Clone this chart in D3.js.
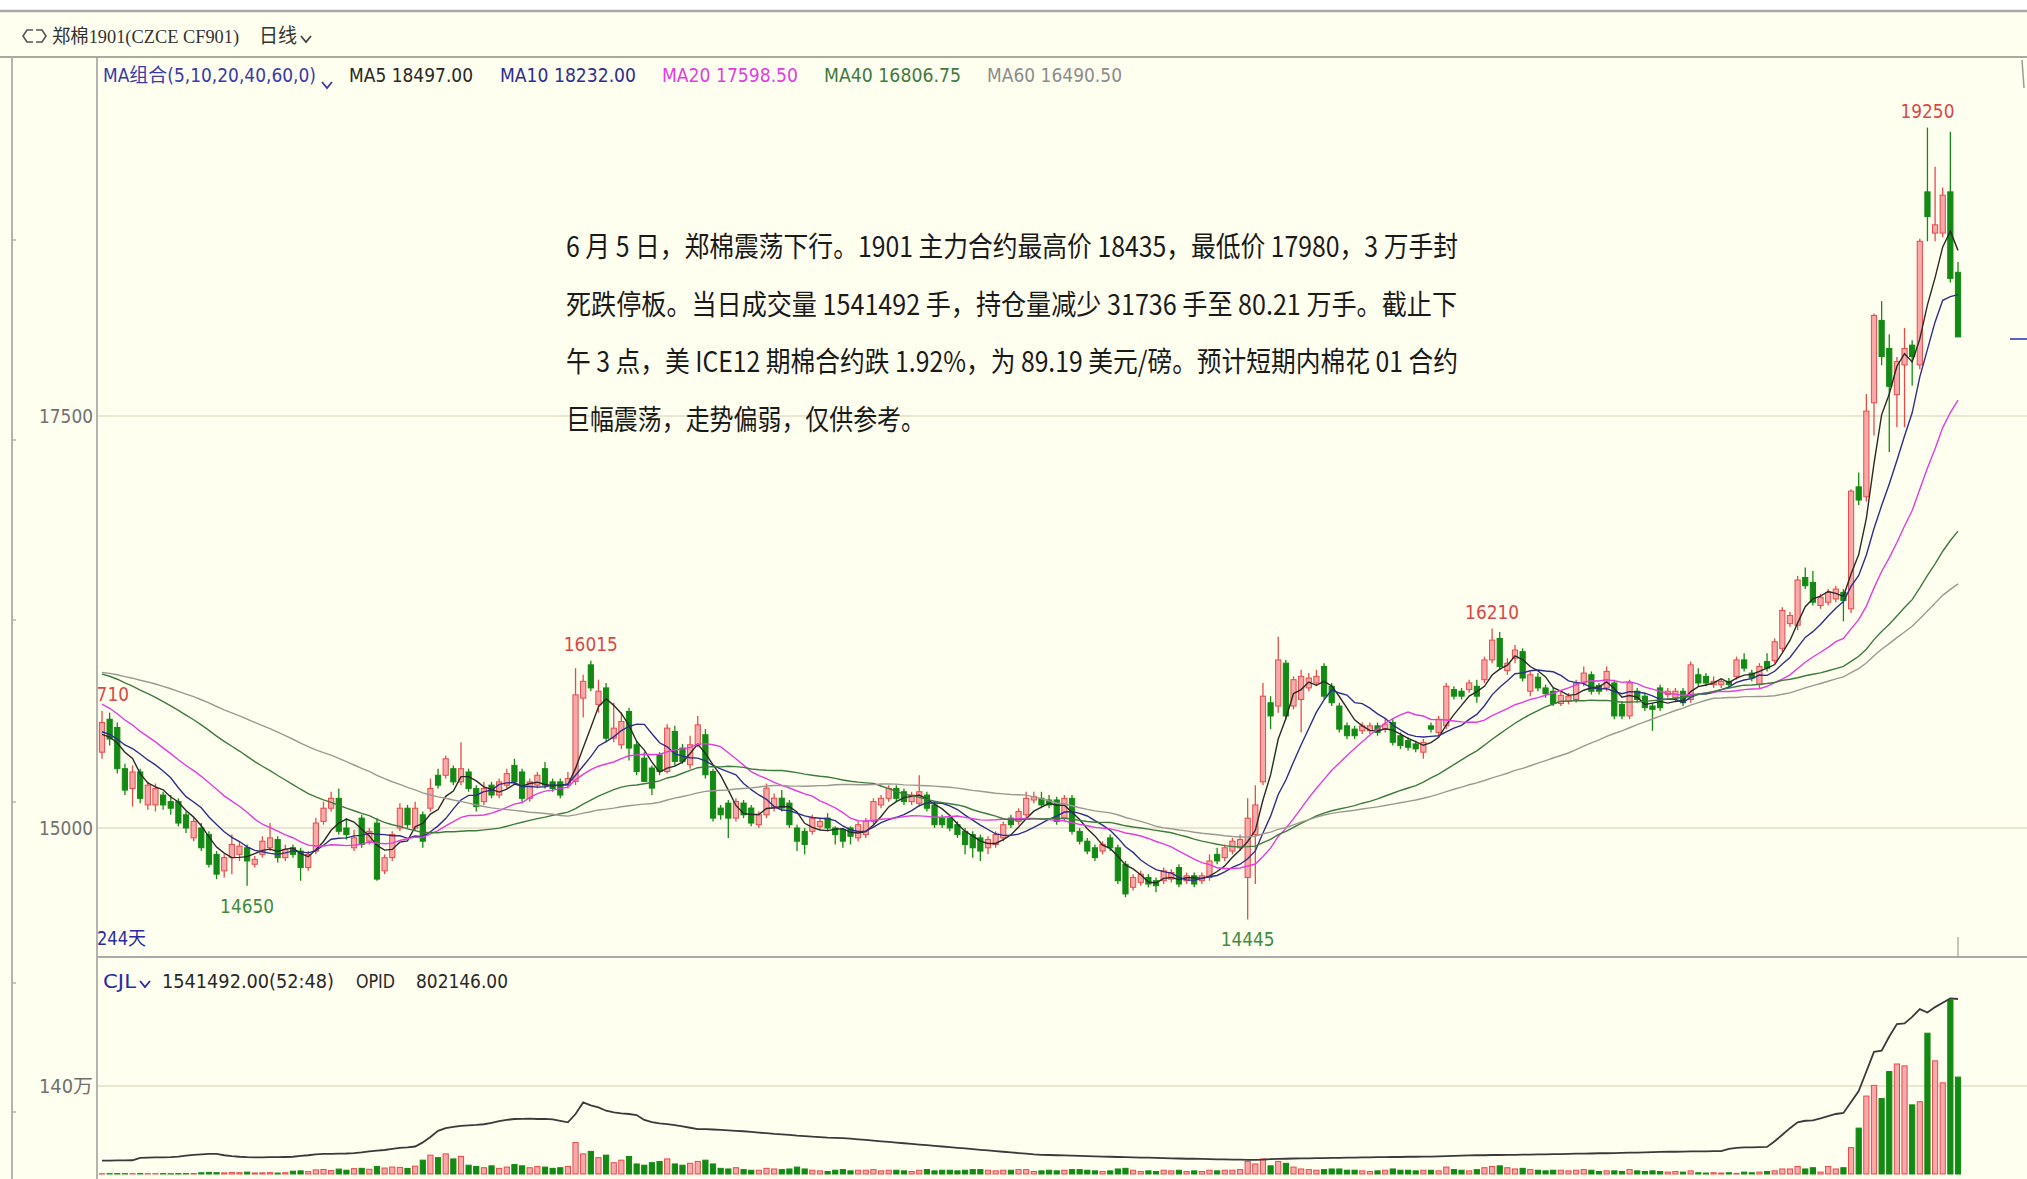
<!DOCTYPE html>
<html lang="zh-CN">
<head>
<meta charset="utf-8">
<title>郑棉1901 日线</title>
<script src="https://cdn.jsdelivr.net/npm/d3@7"></script>
<style>
  html, body { margin: 0; padding: 0; background: #fffff0; }
  svg { display: block; }
  text { font-family: "DejaVu Sans Condensed", "Liberation Sans Narrow", "Noto Sans CJK SC", sans-serif; }
</style>
</head>
<body>
<script>

// daily bars of CF901, oldest first (244 days)
var opens = [
  15460,15660,15610,15360,15240,15340,15140,15140,15200,15160,
  15160,15080,14940,15000,14960,14840,14740,14820,14840,14880,
  14780,14840,14880,14930,14820,14880,14860,14760,14860,15040,
  15120,15180,15000,14880,15060,14920,15030,14740,14820,15000,
  15120,15000,15080,15120,15320,15320,15360,15280,15340,15240,
  15160,15260,15200,15260,15380,15340,15180,15260,15360,15280,
  15280,15260,15283,15788,15990,15750,15850,15545,15505,15707,
  15505,15424,15364,15444,15343,15586,15485,15384,15505,15566,
  15343,15121,15151,15060,15151,15121,15020,15080,15121,15181,
  15151,15000,14980,14980,15010,15060,15000,14990,15000,14940,
  14960,15040,15140,15180,15240,15220,15160,15150,15200,15140,
  15060,15060,15020,14980,14960,14940,14880,14900,14940,15060,
  15040,15080,15170,15180,15170,15170,15060,15180,14980,14920,
  14880,14860,14940,14880,14780,14640,14670,14700,14680,14680,
  14690,14760,14680,14710,14680,14700,14840,14820,14860,14880,
  14700,14960,15280,15760,15740,16000,15740,15780,15850,15880,
  15980,15860,15740,15620,15600,15590,15590,15620,15600,15640,
  15560,15530,15510,15460,15620,15580,15620,15840,15830,15840,
  15860,15900,16020,16150,15955,16030,16070,15830,15915,15850,
  15830,15755,15770,15780,15880,15930,15865,15850,15880,15750,
  15680,15830,15800,15740,15850,15810,15790,15830,15780,15930,
  15920,15870,15870,15890,15920,16020,15940,15870,16010,16016,
  16090,16240,16230,16520,16490,16350,16370,16390,16430,16330,
  17070,17010,17580,18080,17910,17630,17810,17930,17810,18860,
  18610,18610,18860,18372
];
var highs = [
  15710,15700,15640,15390,15380,15360,15280,15270,15220,15200,
  15180,15100,15060,15030,14980,14860,14840,14960,14920,14900,
  14830,14950,15030,14950,14900,14900,14880,14860,15060,15160,
  15220,15240,15060,14990,15080,15000,15060,14840,14980,15150,
  15140,15160,15100,15300,15360,15440,15380,15520,15360,15260,
  15280,15280,15300,15360,15420,15360,15300,15340,15400,15300,
  15300,15340,15970,15930,16015,15900,15880,15760,15700,15730,
  15530,15460,15380,15460,15630,15620,15510,15560,15680,15600,
  15360,15140,15170,15180,15170,15140,15100,15270,15210,15230,
  15170,15020,15000,15080,15060,15090,15010,15000,15010,15040,
  15060,15180,15200,15260,15260,15240,15220,15320,15220,15160,
  15080,15080,15040,15000,14980,14960,14950,14980,15040,15080,
  15120,15220,15220,15220,15200,15190,15200,15200,15000,14940,
  14900,14920,14960,14900,14800,14720,14740,14720,14700,14760,
  14750,14780,14730,14730,14730,14840,14880,14900,14940,14960,
  15180,15260,15880,15800,16160,16020,15920,15960,15940,15960,
  16000,15880,15760,15640,15620,15640,15640,15640,15660,15660,
  15580,15550,15530,15540,15640,15680,15880,15860,15850,15900,
  15900,16040,16210,16190,16030,16110,16090,15950,15940,15870,
  15850,15830,15820,15900,15980,15950,15880,15980,15900,15770,
  15900,15850,15820,15760,15870,15850,15850,15850,16010,15970,
  15940,15920,15910,15910,16040,16060,15960,16000,16060,16150,
  16340,16310,16530,16580,16560,16420,16450,16470,16450,17056,
  17157,17633,18122,18197,17996,17858,18034,17960,18575,19250,
  19012,18886,19225,18435
];
var lows = [
  15420,15500,15330,15200,15130,15150,15110,15100,15110,15080,
  15010,14970,14920,14860,14760,14690,14700,14720,14800,14650,
  14760,14820,14860,14790,14800,14820,14680,14740,14840,15020,
  15100,14960,14930,14860,14880,14900,14680,14720,14800,14980,
  15000,14980,14880,15100,15240,15300,15260,15260,15220,15100,
  15140,15180,15180,15240,15260,15160,15160,15240,15240,15220,
  15180,15240,15260,15670,15830,15700,15520,15520,15480,15410,
  15320,15280,15200,15320,15330,15380,15390,15360,15490,15300,
  15040,15050,14940,15040,15060,15010,15000,15060,15100,15100,
  15000,14860,14840,14960,14990,14980,14900,14880,14900,14920,
  14940,15020,15120,15160,15160,15140,15140,15130,15100,15000,
  15000,14980,14940,14840,14820,14800,14840,14880,14920,15000,
  15020,15060,15150,15120,15120,15020,15040,14960,14900,14840,
  14800,14840,14860,14660,14580,14620,14650,14640,14610,14660,
  14670,14640,14660,14640,14660,14680,14780,14800,14840,14860,
  14445,14660,15260,15600,15700,15660,15720,15580,15830,15860,
  15780,15740,15580,15540,15540,15570,15570,15560,15580,15500,
  15480,15470,15460,15420,15580,15560,15600,15780,15780,15820,
  15760,15880,16000,15960,15930,16000,15890,15800,15830,15790,
  15740,15740,15750,15760,15860,15810,15810,15830,15660,15660,
  15660,15760,15710,15590,15710,15790,15770,15740,15760,15860,
  15860,15850,15850,15850,15900,15950,15890,15850,15950,16000,
  16070,16220,16200,16450,16350,16330,16350,16370,16254,16304,
  16960,16981,17382,17808,17282,17432,17432,17683,17783,18560,
  18560,18585,18310,17980
];
var closes = [
  15640,15540,15360,15230,15340,15180,15260,15240,15140,15120,
  15030,15000,15040,14880,14780,14720,14820,14900,14890,14800,
  14810,14920,14940,14820,14870,14840,14760,14840,15030,15120,
  15180,14980,14960,14940,14900,14980,14690,14820,14960,15120,
  15020,15120,14920,15240,15260,15420,15280,15360,15240,15130,
  15240,15200,15280,15330,15280,15180,15280,15320,15260,15240,
  15200,15300,15808,15890,15850,15830,15545,15606,15646,15485,
  15343,15283,15242,15343,15606,15404,15404,15505,15626,15323,
  15060,15080,15060,15161,15080,15030,15080,15242,15181,15121,
  15020,14920,14900,15060,15040,15000,14960,14920,14950,15020,
  15040,15160,15180,15240,15180,15160,15200,15220,15120,15020,
  15020,15000,14960,14900,14880,14860,14930,14960,15020,15020,
  15100,15180,15190,15140,15140,15040,15180,14980,14920,14860,
  14820,14900,14880,14680,14600,14700,14720,14660,14650,14740,
  14730,14660,14710,14660,14710,14800,14800,14880,14920,14930,
  15060,15140,15800,15680,16020,15680,15900,15920,15910,15920,
  15800,15760,15600,15560,15560,15620,15620,15580,15630,15520,
  15500,15490,15480,15520,15600,15660,15860,15800,15800,15880,
  15800,16020,16140,15980,16000,16080,15910,15930,15850,15815,
  15755,15805,15800,15880,15940,15830,15830,15950,15680,15680,
  15880,15780,15730,15720,15730,15830,15830,15760,15990,15880,
  15880,15890,15890,15870,16020,15970,15910,15980,15970,16130,
  16320,16290,16505,16470,16370,16400,16430,16450,16380,17044,
  16990,17530,18110,17860,17680,17830,17910,17860,18560,18710,
  18660,18840,18335,17980
];
// closes before the visible window, only used to seed the moving averages
var priorCloses = [
  15850,15880,15900,15920,15940,15900,15960,15980,16000,15970,
  15990,16010,15980,15960,16000,16020,15990,16010,16030,15990,
  16050,16080,16100,16120,16150,16130,16160,16180,16140,16120,
  16150,16170,16130,16100,16120,16090,16080,16060,16100,16070,
  16050,16020,15990,15960,15940,15900,15880,15860,15820,15780,
  15700,15650,15580,15560,15510,15620,15540,15510,15530
];
// volume (CJL) in 万手
var volumes = [
  0.4,0.5,0.6,0.5,0.4,0.6,0.5,0.5,0.6,0.4,
  0.7,0.6,0.8,2.0,2.6,2.2,1.8,2.5,2.0,3.0,
  1.6,1.8,2.2,1.5,2.0,4.5,5.0,3.8,6.5,7.2,
  5.5,7.8,6.0,8.5,9.0,7.5,12,9.5,11,10.5,
  8.8,12.5,22,30,26,32,24,28,14,12,
  10,13,9,11,15,13,10,12,11,9,
  10,12,50,32,36,26,30,18,22,28,
  16,14,18,20,24,16,14,17,20,22,
  16,9,8,10,7,6,6,9,8,7,
  8,11,8,6,5,4,6,7,5,6,
  6,7,5,6,6,5,4,6,7,5,
  6,6,5,6,7,7,6,5,6,6,
  7,7,4,5,6,5,6,7,7,6,
  5,4,5,8,9,6,4,5,4,6,
  5,6,4,5,4,6,5,6,6,7,
  20,16,24,13,20,17,11,8,7,6,
  7,8,8,6,6,5,4,5,6,8,
  6,6,5,6,6,5,11,7,6,5,
  7,10,12,13,10,8,9,7,6,5,
  6,6,5,6,7,6,4,5,5,4,
  7,5,4,5,4,3,4,3,5,2,
  1.5,2,1.5,2,1,3,2,3,4,5,
  8,8,12,8,10,3,12,8,10,42,
  73,124,141,120,163,175,172,110,115,224,
  180,145,277,154.1492
];
// open interest (OPID) in 万手
var openInterest = [
  6.1,6.1,6.2,6.2,6.3,7.4,7.5,7.6,7.6,7.7,
  8.0,8.4,8.8,9.0,9.2,9.2,8.6,8.2,7.9,7.7,
  7.6,7.6,7.7,7.7,7.8,7.9,8.3,8.6,9.0,9.2,
  9.2,9.3,9.4,9.6,9.9,10.4,10.7,11.0,11.5,12.0,
  12.2,12.6,14.5,17.0,19.8,21.0,21.6,22.1,22.3,22.5,
  22.8,23.4,24.2,24.8,25.2,25.3,25.4,25.2,25.3,25.0,
  24.4,23.7,27.5,32.8,31.5,30.5,29.0,28.2,27.8,27.5,
  27.0,24.8,23.8,23.2,22.9,22.4,21.8,21.2,20.6,20.6,
  20.4,20.2,20.0,19.8,19.6,19.3,19.0,18.7,18.4,18.2,
  17.9,17.6,17.4,17.1,16.9,16.7,16.6,16.4,16.2,15.9,
  15.6,15.3,15.0,14.7,14.4,14.1,13.8,13.5,13.2,12.9,
  12.6,12.3,12.0,11.7,11.4,11.1,10.8,10.5,10.2,9.9,
  9.6,9.3,9.0,8.8,8.7,8.6,8.5,8.4,8.3,8.2,
  8.1,8.0,7.9,7.8,7.7,7.6,7.5,7.5,7.4,7.3,
  7.2,7.1,7.0,7.0,6.9,6.8,6.7,6.7,6.6,6.6,
  6.5,6.5,6.6,6.8,6.9,7.0,7.1,7.2,7.2,7.3,
  7.3,7.4,7.4,7.5,7.5,7.6,7.6,7.7,7.7,7.8,
  7.8,7.9,7.9,8.0,8.0,8.1,8.2,8.3,8.4,8.5,
  8.6,8.6,8.7,8.7,8.8,8.8,8.9,8.9,9.0,9.0,
  9.1,9.1,9.2,9.3,9.3,9.4,9.5,9.5,9.6,9.7,
  9.8,9.8,9.9,10.0,10.1,10.2,10.2,10.3,10.4,10.4,
  10.4,10.5,10.5,11.5,12.0,12.2,12.2,12.3,12.4,15.0,
  18.0,21.0,23.7,24.4,24.6,25.5,26.5,27.5,28.0,33.0,
  38.0,47.0,56.0,56.5,63.0,68.7,69.0,72.0,75.6,74.0,
  76.5,78.5,80.5,80.2146
];

var maPeriods = [5, 10, 20, 40, 60];
var maColors = ["#2a2a2a", "#2e2e8c", "#e23ce2", "#3f7a3f", "#9a9a90"];
var maLegend = ["MA5 18497.00", "MA10 18232.00", "MA20 17598.50", "MA40 16806.75", "MA60 16490.50"];
var priceTicks = [15000, 17500];
var volumeTicks = [140];
var highMarks = [0, 64, 182, 239];
var lowMarks = [19, 150];
var noteLines = [
  "6 月 5 日，郑棉震荡下行。1901 主力合约最高价 18435，最低价 17980，3 万手封",
  "死跌停板。当日成交量 1541492 手，持仓量减少 31736 手至 80.21 万手。截止下",
  "午 3 点，美 ICE12 期棉合约跌 1.92%，为 89.19 美元/磅。预计短期内棉花 01 合约",
  "巨幅震荡，走势偏弱，仅供参考。"
];

var w = 2027, h = 1179;
var n = closes.length;
var upStroke = "#e84a4a", upFill = "#f7aaaa", downColor = "#138a13";

var svg = d3.select("body").append("svg").attr("width", w).attr("height", h);

var x = d3.scaleLinear().domain([0, n - 1]).range([102, 1958]);
var y = d3.scaleLinear().domain([15000, 17500]).range([828, 416]);
var vy = d3.scaleLinear().domain([0, 140]).range([1174, 1086]);
var oy = d3.scaleLinear().domain([0, 80.2146]).range([1174, 999]);

// background and frame
svg.append("rect").attr("width", w).attr("height", h).attr("fill", "#fffff0");
svg.append("rect").attr("width", w).attr("height", 10).attr("fill", "#ffffff");
svg.append("line").attr("x1", 0).attr("x2", w).attr("y1", 11).attr("y2", 11)
  .attr("stroke", "#a8a8a8").attr("stroke-width", 2.5);
svg.append("line").attr("x1", 0).attr("x2", w).attr("y1", 57).attr("y2", 57)
  .attr("stroke", "#8c8c8c").attr("stroke-width", 1.5);
svg.append("line").attr("x1", 12).attr("x2", 12).attr("y1", 57).attr("y2", h)
  .attr("stroke", "#b4b4b4").attr("stroke-width", 2);
[240, 440, 620, 802, 983, 1112].forEach(function(t) {
  svg.append("line").attr("x1", 12).attr("x2", 16).attr("y1", t).attr("y2", t)
    .attr("stroke", "#b4b4b4").attr("stroke-width", 1.5);
});
svg.append("line").attr("x1", 97).attr("x2", 97).attr("y1", 57).attr("y2", h)
  .attr("stroke", "#9a9a9a").attr("stroke-width", 1.5);
svg.append("line").attr("x1", 97).attr("x2", w).attr("y1", 957).attr("y2", 957)
  .attr("stroke", "#aaaaaa").attr("stroke-width", 2);

// grid lines
svg.selectAll("line.pgrid").data(priceTicks).enter().append("line")
  .attr("x1", 98).attr("x2", w).attr("y1", function(d) { return y(d); }).attr("y2", function(d) { return y(d); })
  .attr("stroke", "#e2dec8").attr("stroke-width", 1.5);
svg.selectAll("line.vgrid").data(volumeTicks).enter().append("line")
  .attr("x1", 98).attr("x2", w).attr("y1", function(d) { return vy(d); }).attr("y2", function(d) { return vy(d); })
  .attr("stroke", "#e2dec8").attr("stroke-width", 1.5);

// axes labels
var yAxis = svg.append("g").attr("transform", "translate(93,0)")
  .call(d3.axisLeft(y).tickValues(priceTicks).tickSize(0).tickPadding(0).tickFormat(d3.format("d")));
var vAxis = svg.append("g").attr("transform", "translate(93,0)")
  .call(d3.axisLeft(vy).tickValues(volumeTicks).tickSize(0).tickPadding(0).tickFormat(function(d) { return d + "万"; }));
[yAxis, vAxis].forEach(function(g) {
  g.select(".domain").remove();
  g.selectAll("text").attr("fill", "#707070").style("font-size", "19px")
    .attr("textLength", 54).attr("lengthAdjust", "spacingAndGlyphs");
});

// clips
var defs = svg.append("defs");
defs.append("clipPath").attr("id", "pclip").append("rect")
  .attr("x", 98).attr("y", 58).attr("width", w - 98).attr("height", 898);
defs.append("clipPath").attr("id", "vclip").append("rect")
  .attr("x", 98).attr("y", 958).attr("width", w - 98).attr("height", h - 958);

var price = svg.append("g").attr("clip-path", "url(#pclip)");
var vol = svg.append("g").attr("clip-path", "url(#vclip)");

// candles
var idx = d3.range(n);
function isUp(i) { return closes[i] >= opens[i]; }
price.selectAll("line.wick").data(idx).enter().append("line")
  .attr("x1", function(i) { return x(i); }).attr("x2", function(i) { return x(i); })
  .attr("y1", function(i) { return y(highs[i]); }).attr("y2", function(i) { return y(lows[i]); })
  .attr("stroke", function(i) { return isUp(i) ? upStroke : downColor; }).attr("stroke-width", 1.3);
price.selectAll("rect.body").data(idx).enter().append("rect")
  .attr("x", function(i) { return x(i) - 2.6; }).attr("width", 5.2)
  .attr("y", function(i) { return y(Math.max(opens[i], closes[i])); })
  .attr("height", function(i) { return Math.max(1.2, Math.abs(y(opens[i]) - y(closes[i]))); })
  .attr("fill", function(i) { return isUp(i) ? upFill : downColor; })
  .attr("stroke", function(i) { return isUp(i) ? upStroke : downColor; }).attr("stroke-width", 1);

// moving averages
var allCloses = priorCloses.concat(closes);
function movingAvg(p) {
  return closes.map(function(c, i) {
    var end = i + priorCloses.length;
    return d3.mean(allCloses.slice(end - p + 1, end + 1));
  });
}
var maLine = d3.line().x(function(d, i) { return x(i); }).y(function(d) { return y(d); });
maPeriods.forEach(function(p, k) {
  price.append("path").datum(movingAvg(p)).attr("d", maLine)
    .attr("fill", "none").attr("stroke", maColors[k]).attr("stroke-width", 1.4);
});

// high / low marks
price.selectAll("text.hi").data(highMarks).enter().append("text")
  .attr("x", function(i) { return x(i); }).attr("y", function(i) { return y(highs[i]) - 10; })
  .attr("text-anchor", "middle").attr("fill", "#d84848").style("font-size", "19px")
  .attr("textLength", 54).attr("lengthAdjust", "spacingAndGlyphs")
  .text(function(i) { return highs[i]; });
price.selectAll("text.lo").data(lowMarks).enter().append("text")
  .attr("x", function(i) { return x(i); }).attr("y", function(i) { return y(lows[i]) + 27; })
  .attr("text-anchor", "middle").attr("fill", "#3f8a3f").style("font-size", "19px")
  .attr("textLength", 54).attr("lengthAdjust", "spacingAndGlyphs")
  .text(function(i) { return lows[i]; });

// volume bars and open interest
vol.selectAll("rect.vbar").data(idx).enter().append("rect")
  .attr("x", function(i) { return x(i) - 2.6; }).attr("width", 5.2)
  .attr("y", function(i) { return vy(volumes[i]); })
  .attr("height", function(i) { return vy(0) - vy(volumes[i]); })
  .attr("fill", function(i) { return isUp(i) ? upFill : downColor; })
  .attr("stroke", function(i) { return isUp(i) ? upStroke : downColor; }).attr("stroke-width", 1);
vol.append("path").datum(openInterest)
  .attr("d", d3.line().x(function(d, i) { return x(i); }).y(function(d) { return oy(d); }))
  .attr("fill", "none").attr("stroke", "#3a3a3a").attr("stroke-width", 1.8);

// small markers on the right and under the last bar
svg.append("line").attr("x1", 2010).attr("x2", w).attr("y1", 339).attr("y2", 339)
  .attr("stroke", "#5a64c0").attr("stroke-width", 2);
svg.append("line").attr("x1", 2022).attr("x2", 2024).attr("y1", 60).attr("y2", 88)
  .attr("stroke", "#9a9a9a").attr("stroke-width", 1.5);
svg.append("line").attr("x1", x(n - 1)).attr("x2", x(n - 1)).attr("y1", 937).attr("y2", 957)
  .attr("stroke", "#a0a0a0").attr("stroke-width", 1.2);

// helper for fitted text
function label(tx, ty, str, color, width, size, family) {
  var t = svg.append("text").attr("x", tx).attr("y", ty).attr("fill", color)
    .style("font-size", (size || 19) + "px").text(str);
  if (family) t.style("font-family", family);
  if (width) t.attr("textLength", width).attr("lengthAdjust", "spacingAndGlyphs");
  return t;
}
function chevron(cx, cy, color) {
  svg.append("path").attr("d", "M" + (cx - 5) + "," + (cy - 3) + " L" + cx + "," + (cy + 3) + " L" + (cx + 5) + "," + (cy - 3))
    .attr("fill", "none").attr("stroke", color).attr("stroke-width", 1.8);
}

// title row
svg.append("path").attr("d", "M33,30 L27,30 L23,36 L27,42 L33,42")
  .attr("fill", "none").attr("stroke", "#555").attr("stroke-width", 1.6);
svg.append("path").attr("d", "M36,30 L42,30 L46,36 L42,42 L36,42")
  .attr("fill", "none").attr("stroke", "#555").attr("stroke-width", 1.6);
label(52, 43, "郑棉1901(CZCE CF901)", "#333333", 187, 19, "'Liberation Serif', 'Noto Sans CJK SC', serif");
label(259, 43, "日线", "#333333", 38, 20, "'Noto Sans CJK SC', sans-serif");
chevron(306, 39, "#444444");

// MA legend
label(103, 82, "MA组合(5,10,20,40,60,0)", "#3a3aa8", 213, 19);
chevron(327, 85, "#3a3aa8");
var legendX = [349, 500, 662, 824, 987];
var legendW = [124, 136, 136, 137, 135];
maLegend.forEach(function(s, k) {
  label(legendX[k], 82, s, k === 0 ? "#282828" : (k === 4 ? "#8c8c8c" : maColors[k]), legendW[k], 19);
});

// annotation
var noteW = [892, 891, 892, 359];
noteLines.forEach(function(s, k) {
  label(566, 257 + k * 57.7, s, "#1a1a1a", noteW[k], 28, "'Noto Sans CJK SC', sans-serif");
});

// panel captions
label(97, 945, "244天", "#2a2aa0", 49, 19);
label(103, 988, "CJL", "#2a2aa0", 33, 19);
chevron(145, 984, "#2a2aa0");
label(162, 988, "1541492.00(52:48)", "#282828", 172, 19);
label(356, 988, "OPID", "#282828", 39, 19);
label(416, 988, "802146.00", "#282828", 92, 19);

</script>
</body>
</html>
